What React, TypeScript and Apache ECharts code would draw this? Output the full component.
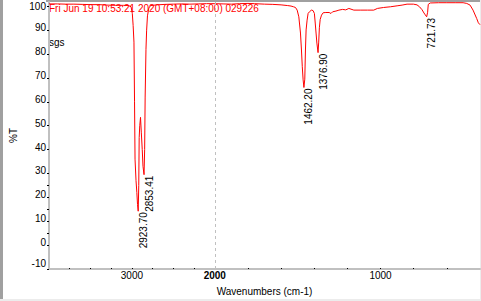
import React, { useEffect, useRef } from "react";
import * as echarts from "echarts";

// ---- data ----
const wavenumbers: number[] = [
  4000, 3900, 3800, 3700, 3600, 3500, 3400, 3300, 3200, 3100, 3040, 3010, 2995, 2985, 2975,
  2968, 2962, 2950, 2940, 2932, 2923.7, 2917, 2912, 2905, 2896, 2886, 2875, 2866, 2853.41,
  2846, 2840, 2830, 2822, 2812, 2795, 2775, 2700, 2600, 2500, 2400, 2300, 2200, 2100, 2000,
  1950, 1900, 1850, 1800, 1760, 1700, 1650, 1600, 1560, 1540, 1525, 1513, 1503, 1493, 1483,
  1477, 1472, 1467, 1462.2, 1457, 1453, 1449, 1443, 1437, 1429, 1417, 1407, 1399, 1394, 1389,
  1384, 1376.9, 1373, 1369, 1364, 1356, 1346, 1330, 1310, 1299, 1289, 1269, 1251, 1229, 1210,
  1191, 1161, 1119, 1079, 1041, 1019, 982, 940, 900, 870, 840, 802, 780, 765, 750, 738, 730,
  721.73, 716, 712, 700, 650, 600, 550, 502, 480, 460, 442, 420, 410, 400,
];
const transmittance: number[] = [
  101.0, 101.0, 100.9, 100.9, 100.8, 100.7, 100.7, 100.5, 100.4, 100.4, 100.3, 99.8, 97.0, 92.0, 85.0,
  60.0, 36.0, 27.0, 22.0, 17.0, 14.2, 25.0, 45.0, 50.0, 53.5, 47.0, 40.0, 33.0, 29.5,
  40.0, 62.0, 82.0, 90.0, 96.0, 99.3, 100.3, 100.6, 100.8, 100.9, 101.0, 100.9, 101.0, 101.1, 101.1,
  101.0, 100.9, 101.1, 101.2, 101.1, 100.9, 100.8, 100.6, 100.3, 100.1, 99.8, 99.5, 98.4, 95.6, 88.8,
  81.7, 74.7, 69.2, 66.0, 69.5, 81.7, 90.1, 94.2, 97.0, 97.7, 98.4, 98.2, 97.0, 93.0, 88.8,
  84.6, 80.6, 85.0, 91.0, 94.5, 96.3, 97.3, 97.4, 97.4, 97.0, 97.7, 98.0, 98.4, 98.7, 98.5,
  99.1, 98.4, 98.4, 98.4, 98.4, 99.1, 99.5, 99.8, 100.2, 100.5, 100.9, 100.9, 100.6, 99.8, 98.6, 97.2, 96.4,
  95.6, 97.5, 100.8, 101.4, 101.5, 101.5, 101.5, 101.5, 101.2, 100.5, 98.4, 94.9, 93.1, 92.3,
];

const peakWavenumbers: number[] = [2923.7, 2853.41, 1462.2, 1376.9, 721.73];
const peakTransmittance: number[] = [14.2, 29.5, 66.0, 80.6, 95.6];
const peakLabels: string[] = ["2923.70", "2853.41", "1462.20", "1376.90", "721.73"];

const xTickValues: number[] = [3750, 3500, 3250, 3000, 2750, 2500, 2250, 2000, 1800, 1600, 1400, 1200, 1000, 800, 600];
const xLabelValues: number[] = [3000, 2000, 1000];
const yLabelValues: number[] = [-10, 0, 10, 20, 30, 40, 50, 60, 70, 80, 90, 100];
const yTickValues: number[] = [-10, 0, 5, 10, 15, 20, 25, 30, 40, 50, 60, 70, 80, 90, 100];

const headerText = "Fri Jun 19 10:53:21 2020 (GMT+08:00) 029226";
const sampleName = "sgs";
const xTitle = "Wavenumbers (cm-1)";
const yTitle = "%T";

// axis with a scale change at 2000 cm-1 (region above 2000 compressed 2x)
const BREAK_W = 2000;
const MAX_W = 4000;
const MIN_W = 400;
const toAxis = (w: number) => (w >= BREAK_W ? (MAX_W - w) / 2 : (MAX_W - BREAK_W) / 2 + (BREAK_W - w));
const fromAxis = (t: number) => {
  const b = (MAX_W - BREAK_W) / 2;
  return t <= b ? MAX_W - 2 * t : BREAK_W - (t - b);
};

const FONT = "Liberation Sans";

export default function App() {
  const ref = useRef<HTMLDivElement>(null);
  useEffect(() => {
    if (!ref.current) return;
    const chart = echarts.init(ref.current, null, { renderer: "svg" });
    const option: any = {
      animation: false,
      backgroundColor: "#ffffff",
      grid: { left: 47, right: 1, top: 2, bottom: 32 },
      xAxis: {
        type: "value",
        min: 0,
        max: toAxis(MIN_W),
        name: xTitle,
        nameLocation: "middle",
        nameGap: 17,
        nameTextStyle: { color: "#000", fontSize: 10, fontFamily: FONT, lineHeight: 10, verticalAlign: "top" },
        axisLine: { show: true, onZero: false, lineStyle: { color: "#c0c0c0", width: 2 } },
        axisTick: {
          show: true,
          inside: true,
          length: 1,
          customValues: xTickValues.map(toAxis),
          lineStyle: { color: "#000", width: 1 },
        },
        axisLabel: {
          customValues: xLabelValues.map(toAxis),
          formatter: (v: number) => {
            const w = Math.round(fromAxis(v));
            return w === BREAK_W ? "{b|" + w + "}" : String(w);
          },
          color: "#000",
          fontSize: 10,
          fontFamily: FONT,
          lineHeight: 10,
          margin: 1,
          rich: { b: { fontWeight: "bold", fontSize: 10, fontFamily: FONT, lineHeight: 10, color: "#000" } },
        },
        splitLine: { show: false },
      },
      yAxis: {
        type: "value",
        min: -10,
        max: 101.8,
        name: yTitle,
        nameLocation: "middle",
        nameGap: 31,
        nameRotate: 90,
        nameTextStyle: { color: "#000", fontSize: 10, fontFamily: FONT, lineHeight: 10 },
        axisLine: { show: true, onZero: false, lineStyle: { color: "#c0c0c0", width: 2 } },
        axisTick: {
          show: true,
          length: 2,
          customValues: yTickValues,
          lineStyle: { color: "#000", width: 1 },
        },
        axisLabel: {
          customValues: yLabelValues,
          formatter: (v: number) => {
            if (v === -10) return "{lo|" + v + "}";
            if (v === 100) return "{hi|" + v + "}";
            return "{n|" + v + "}";
          },
          margin: 3,
          color: "#000",
          fontSize: 10,
          fontFamily: FONT,
          rich: {
            n: { fontSize: 10, fontFamily: FONT, lineHeight: 10, color: "#000", padding: [0, 0, 5, 0] },
            lo: { fontSize: 10, fontFamily: FONT, lineHeight: 10, color: "#000", padding: [0, 0, 12, 0] },
            hi: { fontSize: 10, fontFamily: FONT, lineHeight: 10, color: "#000", padding: [0, 0, 0, 0] },
          },
        },
        splitLine: { show: false },
      },
      series: [
        {
          type: "line",
          data: wavenumbers.map((w, i) => [toAxis(w), transmittance[i]]),
          showSymbol: false,
          symbol: "none",
          smooth: false,
          lineStyle: { color: "#ff0000", width: 1 },
          markLine: {
            silent: true,
            symbol: ["none", "none"],
            label: { show: false },
            lineStyle: { color: "#c0c0c0", type: [3, 3], width: 1 },
            data: [{ xAxis: toAxis(BREAK_W) }],
          },
        },
      ],
    };
    chart.setOption(option);

    const peakTexts = peakWavenumbers.map((w, i) => {
      const p = chart.convertToPixel({ gridIndex: 0 }, [toAxis(w), peakTransmittance[i]]) as number[];
      return {
        type: "text",
        x: p[0] + 5,
        y: p[1] + 1,
        rotation: Math.PI / 2,
        style: {
          text: peakLabels[i],
          fill: "#000",
          fontSize: 10,
          fontFamily: FONT,
          align: "right",
          verticalAlign: "middle",
        },
      };
    });

    chart.setOption({
      graphic: {
        elements: [
          { type: "rect", shape: { x: 0, y: 0, width: 3, height: 299 }, style: { fill: "#a0a0a0" }, silent: true },
          { type: "rect", shape: { x: 46, y: 0, width: 435, height: 2 }, style: { fill: "#a0a0a0" }, silent: true },
          { type: "rect", shape: { x: 0, y: 299, width: 481, height: 2 }, style: { fill: "#ececec" }, silent: true },
          { type: "rect", shape: { x: 480, y: 0, width: 1, height: 301 }, style: { fill: "#ececec" }, silent: true },
          {
            type: "text",
            x: 49,
            y: 3,
            style: { text: headerText, fill: "#ff0000", fontSize: 10, fontFamily: FONT, verticalAlign: "top", lineHeight: 10 },
          },
          {
            type: "text",
            x: 49,
            y: 37,
            style: { text: sampleName, fill: "#000", fontSize: 10, fontFamily: FONT, verticalAlign: "top", lineHeight: 10 },
          },
          ...peakTexts,
        ],
      },
    });

    return () => chart.dispose();
  }, []);
  return <div ref={ref} style={{ width: 481, height: 301, position: "absolute", left: 0, top: 0 }} />;
}
